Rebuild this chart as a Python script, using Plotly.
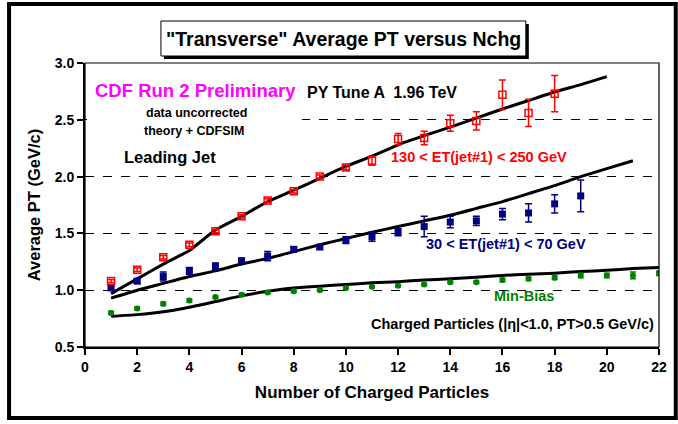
import plotly.graph_objects as go

# ---------------- data ----------------
n_red = list(range(1, 19))
red_vals = [1.08, 1.18, 1.29, 1.40, 1.52, 1.65, 1.79, 1.87, 2.00, 2.08,
            2.14, 2.33, 2.34, 2.47, 2.49, 2.72, 2.56, 2.73]
red_err = [0.015, 0.015, 0.015, 0.015, 0.015, 0.015, 0.015, 0.015, 0.015, 0.02,
           0.04, 0.05, 0.06, 0.07, 0.08, 0.13, 0.12, 0.16]

n_blue = list(range(1, 20))
blue_vals = [1.02, 1.08, 1.12, 1.17, 1.21, 1.26, 1.30, 1.36, 1.38, 1.44,
             1.47, 1.51, 1.56, 1.60, 1.61, 1.67, 1.68, 1.76, 1.83]
blue_err = [0.02, 0.02, 0.04, 0.03, 0.03, 0.02, 0.04, 0.02, 0.02, 0.03,
            0.04, 0.03, 0.09, 0.05, 0.04, 0.05, 0.08, 0.08, 0.14]

n_green = list(range(1, 23))
green_vals = [0.80, 0.84, 0.88, 0.91, 0.94, 0.96, 0.98, 0.99, 1.00, 1.02,
              1.03, 1.04, 1.05, 1.07, 1.07, 1.09, 1.10, 1.11, 1.13, 1.13,
              1.13, 1.15]
green_err = [0.015, 0.015, 0.015, 0.015, 0.01, 0.01, 0.01, 0.01, 0.01, 0.01,
             0.01, 0.01, 0.01, 0.01, 0.01, 0.015, 0.015, 0.015, 0.02, 0.02,
             0.03, 0.02]

n_red_th = list(range(1, 21))
red_theory = [0.97, 1.10, 1.23, 1.35, 1.53, 1.65, 1.78, 1.88, 1.985, 2.09,
              2.18, 2.28, 2.36, 2.435, 2.515, 2.595, 2.67, 2.745, 2.81, 2.88]

n_blue_th = list(range(1, 22))
blue_theory = [0.93, 1.00, 1.06, 1.12, 1.17, 1.23, 1.28, 1.34, 1.40, 1.455,
               1.51, 1.56, 1.61, 1.66, 1.72, 1.78, 1.85, 1.92, 2.00, 2.07, 2.14]

n_green_th = list(range(1, 23))
green_theory = [0.77, 0.785, 0.81, 0.85, 0.90, 0.95, 0.99, 1.02, 1.035, 1.05,
                1.065, 1.075, 1.09, 1.10, 1.115, 1.13, 1.14, 1.15, 1.165, 1.175,
                1.19, 1.20]

x_ticks = list(range(0, 23, 2))
y_ticks = [0.5, 1.0, 1.5, 2.0, 2.5, 3.0]

FONT = "Liberation Sans, Arial, sans-serif"
RED = "#FF0000"
NAVY = "#000080"
GREEN = "#008000"

fig = go.Figure()

# theory curves
for xs, ys in [(n_red_th, red_theory), (n_blue_th, blue_theory), (n_green_th, green_theory)]:
    fig.add_trace(go.Scatter(x=xs, y=ys, mode="lines",
                             line=dict(color="black", width=3, shape="spline", smoothing=0.5),
                             hoverinfo="skip", showlegend=False))

# data
fig.add_trace(go.Scatter(
    x=n_green, y=green_vals, mode="markers",
    marker=dict(symbol="circle", size=6, color=GREEN),
    error_y=dict(type="data", array=green_err, color=GREEN, thickness=1.5, width=3),
    showlegend=False))
fig.add_trace(go.Scatter(
    x=n_blue, y=blue_vals, mode="markers",
    marker=dict(symbol="square", size=7, color=NAVY),
    error_y=dict(type="data", array=blue_err, color=NAVY, thickness=1.5, width=3.5),
    showlegend=False))
fig.add_trace(go.Scatter(
    x=n_red, y=red_vals, mode="markers",
    marker=dict(symbol="square-open", size=7, color=RED, line=dict(width=1.5, color=RED)),
    error_y=dict(type="data", array=red_err, color=RED, thickness=1.5, width=3.5),
    showlegend=False))

def px(xp):
    return (xp - 85) / 582.0

def py(yp):
    return (347 - yp) / 284.0

shapes = [
    # white patch hiding part of the 2.5 gridline behind the text block
    dict(type="rect", xref="paper", yref="paper", x0=px(87), x1=px(305), y0=py(123), y1=py(117),
         fillcolor="white", line=dict(width=0), layer="above"),
    # plot frame (thin top/right)
    dict(type="rect", xref="paper", yref="paper", x0=0, x1=1, y0=0, y1=1,
         line=dict(color="black", width=1.2), layer="above"),
    # outer frame
    dict(type="rect", xref="paper", yref="paper", x0=px(8), x1=px(684), y0=py(418), y1=py(4),
         line=dict(color="black", width=4)),
    # title shadow
    dict(type="rect", xref="paper", yref="paper", x0=px(165), x1=px(535), y0=py(59), y1=py(24),
         fillcolor="black", line=dict(width=0)),
    # title box
    dict(type="rect", xref="paper", yref="paper", x0=px(162), x1=px(532), y0=py(56), y1=py(21),
         fillcolor="white", line=dict(color="black", width=1)),
]

def ann(text, xp, yp, size, color="black"):
    return dict(text=text, xref="paper", yref="paper", x=px(xp), y=py(yp),
                xanchor="center", yanchor="middle", showarrow=False,
                font=dict(family=FONT, size=size, color=color, weight="bold"))

annotations = [
    ann('"Transverse" Average PT versus Nchg', 347, 39, 19.5),
    ann("CDF Run 2 Preliminary", 197, 90, 18.5, "#FF00FF"),
    ann("PY Tune A  1.96 TeV", 386, 92, 16),
    ann("data uncorrected", 198, 113, 12.5),
    ann("theory + CDFSIM", 196, 131, 12.5),
    ann("Leading Jet", 171, 157, 16.5),
    ann("130 < ET(jet#1) < 250 GeV", 484, 157, 14.5, RED),
    ann("30 < ET(jet#1) < 70 GeV", 512, 244, 14.5, NAVY),
    ann("Min-Bias", 530, 296, 14.5, GREEN),
    ann("Charged Particles (|η|<1.0, PT>0.5 GeV/c)", 518, 324, 14.5),
]

fig.update_layout(
    width=678, height=424,
    margin=dict(l=85, r=11, t=63, b=77),
    paper_bgcolor="white", plot_bgcolor="white",
    font=dict(family=FONT, color="black"),
    shapes=shapes, annotations=annotations,
    showlegend=False,
)
fig.update_xaxes(
    range=[0, 22], tickvals=x_ticks, ticktext=[str(v) for v in x_ticks],
    showgrid=False, zeroline=False,
    showline=True, linecolor="black", linewidth=2,
    ticks="outside", ticklen=6, tickwidth=1.5, tickcolor="black",
    tickfont=dict(family=FONT, size=14, color="black", weight="bold"),
    title=dict(text="Number of Charged Particles", standoff=12,
               font=dict(family=FONT, size=17, color="black", weight="bold")),
)
fig.update_yaxes(
    range=[0.5, 3.0], tickvals=y_ticks, ticktext=[f"{v:.1f}" for v in y_ticks],
    showgrid=True, gridcolor="black", gridwidth=1, griddash="dash", zeroline=False,
    showline=True, linecolor="black", linewidth=2,
    ticks="outside", ticklen=6, tickwidth=1.5, tickcolor="black",
    tickfont=dict(family=FONT, size=14, color="black", weight="bold"),
    title=dict(text="Average PT (GeV/c)", standoff=10,
               font=dict(family=FONT, size=16.5, color="black", weight="bold")),
)

fig.write_html("out.html", config={"displayModeBar": False},
               post_script="document.body.style.margin='0';document.body.style.overflow='hidden';")
